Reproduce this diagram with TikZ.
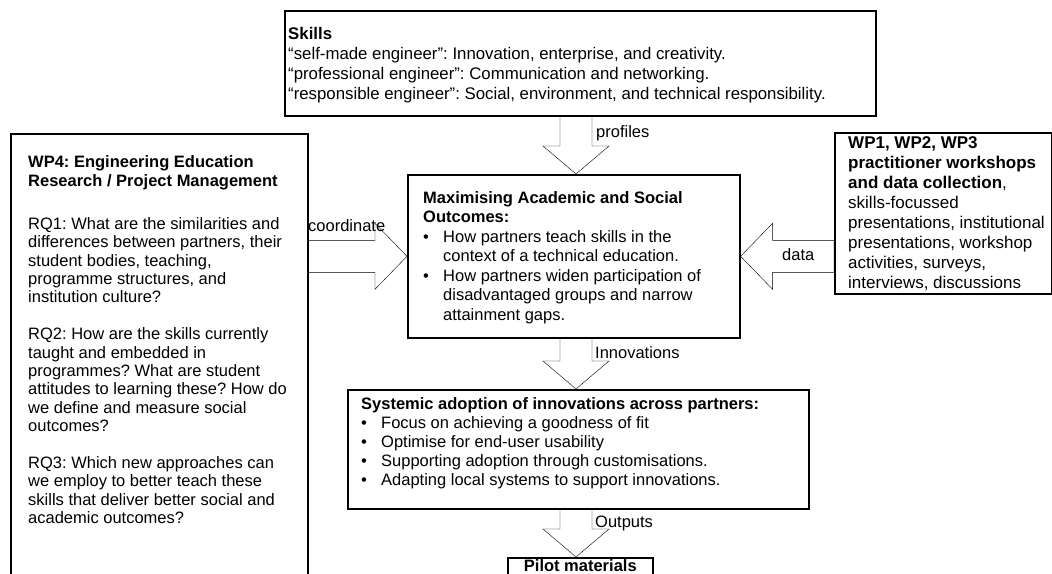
\documentclass[tikz,border=0pt]{standalone}
\usepackage{fontspec}
\setmainfont{Liberation Sans}
\usetikzlibrary{calc}
\newcommand\tstr{\rule{0pt}{14pt}}
\newcommand\bul{\makebox[20pt][l]{•}}
\newcommand\ind{\hspace*{20pt}}
\begin{document}
\frenchspacing
\begin{tikzpicture}[x=1pt,y=-1pt,
  box/.style={draw, line width=1.6pt, fill=white, inner sep=0pt, anchor=north west},
  txt/.style={inner sep=0pt, anchor=north west, align=left, font=\fontsize{16.5}{19.5}\selectfont},
  lbl/.style={inner sep=0pt, anchor=base west, font=\fontsize{16.5}{19.5}\selectfont},
  darrow/.style={draw, line width=1.5pt, fill=white, to path={let \p1=(\tikztostart), \p2=(\tikztotarget) in
     (\x2-16pt,\y1) -- (\x2-16pt,\y2+28pt) -- (\x2-33pt,\y2+28pt) -- (\x2,\y2) -- (\x2+33pt,\y2+28pt) -- (\x2+16pt,\y2+28pt) -- (\x2+16pt,\y1) -- cycle}},
  rarrow/.style={draw, line width=1.5pt, fill=white, to path={let \p1=(\tikztostart), \p2=(\tikztotarget) in
     (\x1,\y2+16pt) -- (\x2-32pt,\y2+16pt) -- (\x2-32pt,\y2+33pt) -- (\x2,\y2) -- (\x2-32pt,\y2-33pt) -- (\x2-32pt,\y2-16pt) -- (\x1,\y2-16pt) -- cycle}},
  larrow/.style={draw, line width=1.5pt, fill=white, to path={let \p1=(\tikztostart), \p2=(\tikztotarget) in
     (\x1,\y2+16pt) -- (\x2+32pt,\y2+16pt) -- (\x2+32pt,\y2+33pt) -- (\x2,\y2) -- (\x2+32pt,\y2-33pt) -- (\x2+32pt,\y2-16pt) -- (\x1,\y2-16pt) -- cycle}},
]
\useasboundingbox[fill=white] (0,0) rectangle (1052,573);

% boxes
\node[box, minimum width=591pt, minimum height=105pt] (skills) at (284,10) {};
\node[box, minimum width=297pt, minimum height=500pt] (wp4) at (10,133) {};
\node[box, minimum width=332pt, minimum height=163pt] (center) at (407,174) {};
\node[box, minimum width=217pt, minimum height=161pt] (wp13) at (834,132) {};
\node[box, minimum width=461pt, minimum height=119pt] (systemic) at (347,389) {};
\node[box, minimum width=145pt, minimum height=40pt] (pilot) at (507,557) {};
\coordinate (axis) at (576,0);

% block arrows
\draw (skills.south) to[darrow] (center.north -| axis);
\draw (center.south) to[darrow] (systemic.north -| axis);
\draw (systemic.south) to[darrow] (pilot.north -| axis);
\draw (wp4.east) to[rarrow] (center.west);
\draw (wp13.west) to[larrow] (center.east);

% texts
\node[txt, font=\fontsize{16.8}{20}\selectfont] (tskills) at (288,25) {\tstr\textbf{Skills}\\
“self-made engineer”: Innovation, enterprise, and creativity.\\
“professional engineer”: Communication and networking.\\
“responsible engineer”: Social, environment, and technical responsibility.};

\node[txt, font=\fontsize{16.5}{18.4}\selectfont] (twp4) at (28,153) {\tstr\textbf{WP4: Engineering Education}\\[0.6pt]
\textbf{Research / Project Management}\\[24.6pt]
RQ1: What are the similarities and\\
differences between partners, their\\
student bodies, teaching,\\
programme structures, and\\
institution culture?\\[18.4pt]
RQ2: How are the skills currently\\
taught and embedded in\\
programmes? What are student\\
attitudes to learning these? How do\\
we define and measure social\\
outcomes?\\[18.4pt]
RQ3: Which new approaches can\\
we employ to better teach these\\
skills that deliver better social and\\
academic outcomes?};

\node[txt] (tcenter) at (423,189) {\tstr\textbf{Maximising Academic and Social}\\
\textbf{Outcomes:}\\
\bul How partners teach skills in the\\
\ind context of a technical education.\\
\bul How partners widen participation of\\
\ind disadvantaged groups and narrow\\
\ind attainment gaps.};

\node[txt, font=\fontsize{17}{20}\selectfont] (twp13) at (848,134.5) {\tstr\textbf{WP1, WP2, WP3}\\
\textbf{practitioner workshops}\\
\textbf{and data collection},\\
skills-focussed\\
presentations, institutional\\
presentations, workshop\\
activities, surveys,\\
interviews, discussions};

\node[txt, font=\fontsize{16.5}{19}\selectfont] (tsys) at (361,395) {\tstr\textbf{Systemic adoption of innovations across partners:}\\
\bul Focus on achieving a goodness of fit\\
\bul Optimise for end-user usability\\
\bul Supporting adoption through customisations.\\
\bul Adapting local systems to support innovations.};

\node[lbl, anchor=base, font=\fontsize{16.5}{19.5}\selectfont\bfseries] (tpilot) at (pilot.north |- 0,571) {Pilot materials};

% arrow labels
\node[lbl] (lprof) at (596,137) {profiles};
\node[lbl] (lcoord) at (308,231) {coordinate};
\node[lbl] (ldata) at (782,260) {data};
\node[lbl] (linno) at (595,358) {Innovations};
\node[lbl] (lout) at (595,527) {Outputs};
\end{tikzpicture}
\end{document}
